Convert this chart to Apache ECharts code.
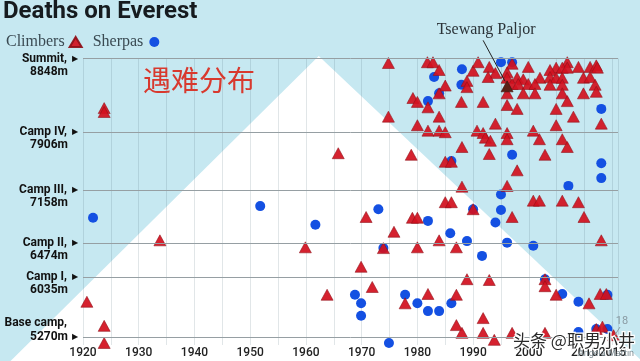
<!DOCTYPE html>
<html><head><meta charset="utf-8">
<script src="https://cdn.jsdelivr.net/npm/echarts@6/dist/echarts.min.js"></script>
<style>html,body{margin:0;padding:0;background:#c6e8f1}#c{width:640px;height:361px}</style>
</head><body><div id="c"></div>
<script>
// ---- data ----
const climberYears = [1923.8,1923.8,1933.8,1959.9,1920.7,1923.8,1923.8,1965.8,1974.8,1981.8,1982.8,1983.9,1990.0,1988.9,1988.9,1985.0,1983.9,1979.2,1980.0,1981.9,1987.9,1974.8,1983.9,1980.0,1981.9,1983.9,1985.0,1988.0,1990.7,1990.9,1997.0,1999.9,2006.9,2004.9,2003.8,2006.0,2008.9,2011.0,2012.1,2012.3,1992.9,1994.0,1992.7,1996.1,1996.1,1997.9,1999.0,2002.0,2003.8,2004.9,2006.0,2006.9,2009.8,2011.0,1997.0,1998.1,1999.9,2001.1,2003.8,2006.0,2011.9,1996.1,1999.0,2001.1,2006.0,2009.8,2012.1,2006.9,1991.8,1996.1,1997.9,2004.9,2008.0,1994.0,2004.9,2013.0,1991.8,1992.2,1993.1,1996.1,1996.1,2000.8,2001.9,2006.0,2006.9,1990.0,1978.9,1985.0,1986.1,1988.0,1970.8,1979.1,1980.0,1985.0,1986.1,1975.8,1983.9,1992.9,2002.9,1997.9,1996.1,2000.8,2001.9,2006.0,2008.9,1997.0,2009.9,2013.0,1973.9,1980.0,1987.0,1969.9,1988.9,1971.9,1977.8,1981.9,1987.0,1987.0,1988.0,1963.8,1992.9,2002.9,2002.9,2004.9,2010.8,2012.8,2013.9,1991.8,1991.8,1993.8,1997.0,2002.9,2012.1,2013.2,2015.2];
const climberAlts = [8210,8160,6510,6420,5720,5410,5190,7630,8790,8800,8800,8700,8690,8560,8480,8500,8400,8340,8290,8220,8290,8100,8100,7990,7920,7920,7900,7710,7920,8800,8780,8740,8800,8730,8700,8730,8740,8740,8760,8730,8740,8660,8610,8670,8600,8600,8580,8600,8610,8600,8600,8730,8600,8610,8520,8520,8520,8520,8510,8510,8510,8400,8400,8400,8400,8400,8420,8300,8290,8250,8200,8200,8100,8010,7990,8010,7890,7830,7790,7890,7810,7920,7810,7810,7710,6910,7610,7520,7520,7200,6810,6800,6800,7000,7000,6620,6510,7620,7610,7410,7210,7020,7020,7020,7000,6810,6810,6510,6410,6420,6420,6170,6010,5910,5700,5820,5810,5420,5320,5810,6000,6010,5920,5810,5700,5820,5820,5510,5320,5230,5320,5320,5370,5400,5290];
const sherpaYears = [1921.8,1951.8,1961.7,1988.0,1983.0,1987.9,1983.9,1981.9,1995.0,1997.0,2013.0,1986.1,1973.0,1981.9,1990.0,1985.9,1988.9,1997.0,2013.0,2013.0,2007.1,1995.0,1995.0,1994.0,1996.1,2000.8,1973.9,1991.6,1968.8,1969.9,1969.9,1977.8,1980.0,1981.9,1983.9,1986.1,1974.9,2002.9,2006.0,2008.9,2014.1,2008.9,2012.1,2014.1];
const sherpaAlts = [6800,6950,6710,8710,8610,8510,8400,8300,8800,8800,8200,7530,6910,6760,6910,6600,6500,7610,7500,7310,7210,7100,6900,6740,6480,6440,6410,6310,5810,5700,5540,5810,5700,5600,5600,5700,5190,6010,5820,5720,5810,5330,5370,5370];
const paljor = [1996.1, 8490];
const campNames = ['Base camp,','Camp I,','Camp II,','Camp III,','Camp IV,','Summit,'];
const campAlts = [5270, 6035, 6474, 7158, 7906, 8848];
const xTickLabels = [1920,1930,1940,1950,1960,1970,1980,1990,2000,2010,2015];
const mountain = [[1907, 4958], [1962.3, 8880], [2020.3, 4958]];

const climbers = climberYears.map((y, i) => [y, climberAlts[i]]);
const sherpas = sherpaYears.map((y, i) => [y, sherpaAlts[i]]);

const chart = echarts.init(document.getElementById('c'), null, {renderer: 'canvas'});
chart.setOption({
  backgroundColor: '#c6e8f1',
  animation: false,
  title: {text: 'Deaths on Everest', left: 3, top: 0, padding: 0,
    textStyle: {fontFamily: 'Roboto', fontWeight: 'bold', fontSize: 24, color: '#161b1f'}},
  legend: {data: ['Climbers', 'Sherpas'], left: 1, top: 29, align: 'right', itemWidth: 12, itemHeight: 10, itemGap: 10,
    textStyle: {fontFamily: 'Liberation Serif', fontSize: 16, color: '#3a4a52'}},
  grid: {left: 83, right: 22, top: 58.5, bottom: 16},
  xAxis: {type: 'value', min: 1920, max: 2016, interval: 5,
    axisLine: {show: false}, axisTick: {show: false},
    splitLine: {show: true, lineStyle: {color: 'rgba(70,100,115,0.16)', width: 1}},
    axisLabel: {margin: 2, color: '#222', fontSize: 12, fontFamily: 'Roboto', fontWeight: 500,
      formatter: v => xTickLabels.includes(v) ? String(v) : ''}},
  yAxis: {type: 'value', min: 5164, max: 8848, show: false},
  series: [
    {name: 'Sherpas', type: 'scatter', symbol: 'circle', symbolSize: 10, z: 2, data: sherpas,
      itemStyle: {color: '#1450e2', opacity: 1}},
    {name: 'Climbers', type: 'scatter', symbol: 'triangle', symbolSize: [12, 11], z: 3, data: climbers,
      itemStyle: {color: '#d2111f', borderColor: '#8e1019', borderWidth: 0.6, opacity: 0.93},
      markLine: {silent: true, symbol: 'none', animation: false, label: {show: false},
        lineStyle: {color: '#969fa3', type: 'solid', width: 1},
        data: campAlts.map(a => ({yAxis: a}))}},
    {name: 'Paljor', type: 'scatter', symbol: 'triangle', symbolSize: [12, 11], z: 4, data: [paljor],
      itemStyle: {color: '#5b2016', borderColor: '#3a120c', borderWidth: 0.6, opacity: 1}}
  ]
});

const g = [];
const mp = mountain.map(p => chart.convertToPixel({gridIndex: 0}, p));
g.push({type: 'polygon', z: -10, silent: true, shape: {points: mp}, style: {fill: '#ffffff'}});
const lbl = (x, y, text) => ({type: 'text', x, y, z: 10, style: {text, align: 'right', verticalAlign: 'middle',
  fontSize: 12, fontWeight: 'bold', fontFamily: 'Roboto', fill: '#111'}});
const arrow = (x, y) => ({type: 'text', x, y, z: 10, style: {text: '▶', align: 'left', verticalAlign: 'middle',
  fontSize: 8, fontFamily: 'DejaVu Sans', fill: '#111'}});
campAlts.forEach((a, i) => {
  const py = chart.convertToPixel({yAxisIndex: 0}, a);
  if (i === 0) {
    g.push(lbl(67, py - 14, campNames[i]));
    g.push(lbl(68, py, a + 'm'));
  } else {
    g.push(lbl(67, py, campNames[i]));
    g.push(lbl(68, py + 13, a + 'm'));
  }
  g.push(arrow(72, py));
});
const pp = chart.convertToPixel({gridIndex: 0}, paljor);
g.push({type: 'line', z: 10, shape: {x1: pp[0] - 24, y1: pp[1] - 46, x2: pp[0] - 2, y2: pp[1] - 5},
  style: {stroke: '#222', lineWidth: 1}});
g.push({type: 'text', x: pp[0] - 21, y: pp[1] - 57, z: 10, style: {text: 'Tsewang Paljor', align: 'center',
  verticalAlign: 'middle', fontSize: 16, fontFamily: 'Liberation Serif', fill: '#2b3338'}});
g.push({type: 'text', x: 143, y: 80, z: 10, style: {text: '遇难分布', align: 'left', verticalAlign: 'middle',
  fontSize: 28, fontFamily: 'Noto Sans CJK SC', fill: '#d8392e'}});
g.push({type: 'text', x: 622, y: 321, z: 10, style: {text: '18', align: 'center', verticalAlign: 'middle',
  fontSize: 11, fontFamily: 'Roboto', fill: '#8a9ba3'}});
g.push({type: 'line', z: 10, shape: {x1: 620, y1: 327, x2: 615, y2: 335}, style: {stroke: '#8a9ba3', lineWidth: 1}});
g.push({type: 'text', x: 606, y: 354, z: 9, style: {text: 'Angela Martin', align: 'center', verticalAlign: 'middle',
  fontSize: 9, fontFamily: 'Roboto', fill: '#7d8c92'}});
g.push({type: 'text', x: 513, y: 341, z: 11, style: {text: '头条 @职男小井', align: 'left', verticalAlign: 'middle',
  fontSize: 17, fontFamily: 'Noto Sans CJK SC', fill: '#2a2a2a', stroke: '#ffffff', lineWidth: 2.5}});
chart.setOption({graphic: {elements: g}});
</script></body></html>
